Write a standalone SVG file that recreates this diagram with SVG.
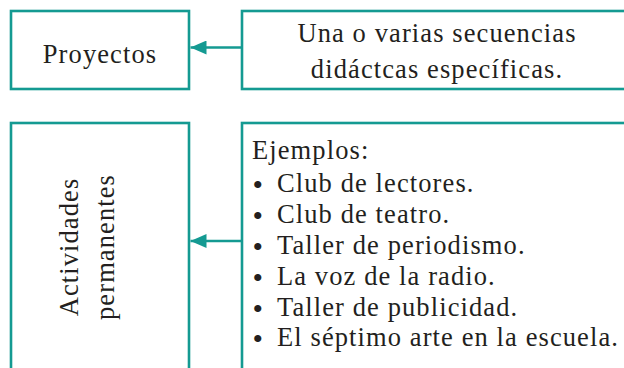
<svg xmlns="http://www.w3.org/2000/svg" width="624" height="368" viewBox="0 0 624 368">
<defs>
<style>
.box{fill:#fff;stroke:#149a92;stroke-width:2.6}
.t{font-family:"Liberation Serif","Times New Roman",serif;font-size:26.5px;letter-spacing:1.1px;fill:#231f20}
.c{text-anchor:middle}
.b{font-family:"Liberation Serif","Times New Roman",serif;font-size:30px;fill:#231f20}
.con{stroke:#149a92;stroke-width:2.6;fill:none}
</style>
<marker id="ah" viewBox="0 0 16 14" refX="16" refY="7" markerWidth="16" markerHeight="14" markerUnits="userSpaceOnUse" orient="auto">
<path d="M0,0 L16,7 L0,14 Z" fill="#149a92"/>
</marker>
</defs>
<rect width="624" height="368" fill="#fff"/>
<g id="proyectos">
<rect class="box" x="11" y="11" width="178" height="78"/>
<text class="t c" x="100" y="63">Proyectos</text>
</g>
<g id="secuencias">
<rect class="box" x="242" y="11" width="400" height="78"/>
<text class="t c" x="437" y="42">Una o varias secuencias</text>
<text class="t c" x="437" y="78">didáctcas específicas.</text>
</g>
<g id="actividades">
<rect class="box" x="11" y="123" width="178" height="260"/>
<text class="t c" transform="translate(78,247) rotate(-90)">Actividades</text>
<text class="t c" transform="translate(114,247) rotate(-90)">permanentes</text>
</g>
<g id="ejemplos">
<rect class="box" x="242" y="123" width="400" height="260"/>
<text class="t" x="252" y="159">Ejemplos:</text>
<text class="b" x="252.5" y="195">•</text><text class="t" x="277" y="192">Club de lectores.</text>
<text class="b" x="252.5" y="226">•</text><text class="t" x="277" y="223">Club de teatro.</text>
<text class="b" x="252.5" y="257">•</text><text class="t" x="277" y="254">Taller de periodismo.</text>
<text class="b" x="252.5" y="288">•</text><text class="t" x="277" y="285">La voz de la radio.</text>
<text class="b" x="252.5" y="319">•</text><text class="t" x="277" y="316">Taller de publicidad.</text>
<text class="b" x="252.5" y="349">•</text><text class="t" x="277" y="346">El séptimo arte en la escuela.</text>
</g>
<g id="connectors">
<line class="con" x1="241" y1="47.5" x2="190.5" y2="47.5" marker-end="url(#ah)"/>
<line class="con" x1="241" y1="241" x2="190.5" y2="241" marker-end="url(#ah)"/>
</g>
</svg>
